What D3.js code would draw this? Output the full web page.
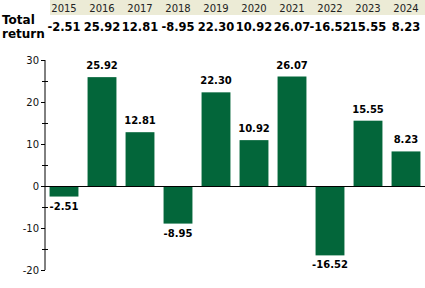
<!DOCTYPE html>
<html>
<head>
<meta charset="utf-8">
<script src="https://cdn.jsdelivr.net/npm/d3@7"></script>
<style>
  html, body { margin: 0; padding: 0; background: #fff; }
  svg { display: block; font-family: "DejaVu Sans", Verdana, sans-serif; }
</style>
</head>
<body>
<div id="chart"></div>
<script>
(function(){
  // Annual total return (%) per calendar year.
  const years = ['2015', '2016', '2017', '2018', '2019', '2020', '2021', '2022', '2023', '2024'];
  const returns = [-2.51, 25.92, 12.81, -8.95, 22.30, 10.92, 26.07, -16.52, 15.55, 8.23];
  const majorTicks = [-20, -10, 0, 10, 20, 30];
  const minorTicks = [-15, -5, 5, 15, 25];

  const width = 425, height = 288;
  const barColor = '#03663a';
  // Plain hyphen for negatives, as in the source table.
  const fmt = v => v.toFixed(2);

  const data = years.map((year, i) => ({year, value: returns[i]}));

  const svg = d3.select('#chart').append('svg')
    .attr('width', width)
    .attr('height', height);

  const x = d3.scaleBand()
    .domain(years)
    .range([45, 425])
    .paddingInner(0.24)
    .paddingOuter(0.12);

  const y = d3.scaleLinear()
    .domain([-20, 30])
    .range([270, 60]);

  // Header table: years on a beige strip, returns below.
  svg.append('rect')
    .attr('x', 50)
    .attr('y', 0)
    .attr('width', width - 50)
    .attr('height', 15)
    .attr('fill', '#ecebd6');

  svg.append('g').selectAll('text')
    .data(years)
    .join('text')
    .attr('x', d => x(d) + x.bandwidth() / 2)
    .attr('y', 12)
    .attr('text-anchor', 'middle')
    .attr('font-size', 10)
    .attr('fill', '#222')
    .text(d => d);

  const rowLabel = svg.append('text')
    .attr('font-size', 12)
    .attr('font-weight', 'bold')
    .attr('fill', '#000');
  rowLabel.append('tspan').attr('x', 2).attr('y', 24).text('Total');
  rowLabel.append('tspan').attr('x', 2).attr('y', 38).text('return');

  svg.append('g').selectAll('text')
    .data(data)
    .join('text')
    .attr('x', d => x(d.year) + x.bandwidth() / 2)
    .attr('y', 31)
    .attr('text-anchor', 'middle')
    .attr('font-size', 11.5)
    .attr('font-weight', 'bold')
    .attr('fill', '#000')
    .text(d => fmt(d.value));

  // Bars from the zero line.
  svg.append('g').selectAll('rect')
    .data(data)
    .join('rect')
    .attr('x', d => x(d.year))
    .attr('width', x.bandwidth())
    .attr('y', d => y(Math.max(0, d.value)))
    .attr('height', d => Math.abs(y(d.value) - y(0)))
    .attr('fill', barColor);

  // Value labels above positive bars, below negative ones.
  svg.append('g').selectAll('text')
    .data(data)
    .join('text')
    .attr('x', d => x(d.year) + x.bandwidth() / 2)
    .attr('y', d => d.value >= 0 ? y(d.value) - 8 : y(d.value) + 13)
    .attr('text-anchor', 'middle')
    .attr('font-size', 10)
    .attr('font-weight', 'bold')
    .attr('fill', '#000')
    .text(d => fmt(d.value));

  // Y axis with major and minor ticks.
  const axis = svg.append('g').attr('transform', 'translate(45,0)');
  axis.append('line')
    .attr('x1', 0).attr('x2', 0)
    .attr('y1', y(30)).attr('y2', y(-20))
    .attr('stroke', '#000');

  axis.selectAll('line.major')
    .data(majorTicks)
    .join('line')
    .attr('class', 'major')
    .attr('x1', -4).attr('x2', 0)
    .attr('y1', d => Math.round(y(d)) + 0.5)
    .attr('y2', d => Math.round(y(d)) + 0.5)
    .attr('stroke', '#000');

  axis.selectAll('line.minor')
    .data(minorTicks)
    .join('line')
    .attr('class', 'minor')
    .attr('x1', -3).attr('x2', 3)
    .attr('y1', d => Math.round(y(d)) + 0.5)
    .attr('y2', d => Math.round(y(d)) + 0.5)
    .attr('stroke', '#000');

  axis.selectAll('text')
    .data(majorTicks)
    .join('text')
    .attr('x', -6)
    .attr('y', d => y(d))
    .attr('dy', '0.35em')
    .attr('text-anchor', 'end')
    .attr('font-size', 10)
    .attr('fill', '#111')
    .text(d => d);

  // Zero baseline across the plot.
  svg.append('line')
    .attr('x1', 45).attr('x2', width)
    .attr('y1', Math.round(y(0)) + 0.5)
    .attr('y2', Math.round(y(0)) + 0.5)
    .attr('stroke', '#000')
    .attr('stroke-width', 1.2);
})();
</script>
</body>
</html>
